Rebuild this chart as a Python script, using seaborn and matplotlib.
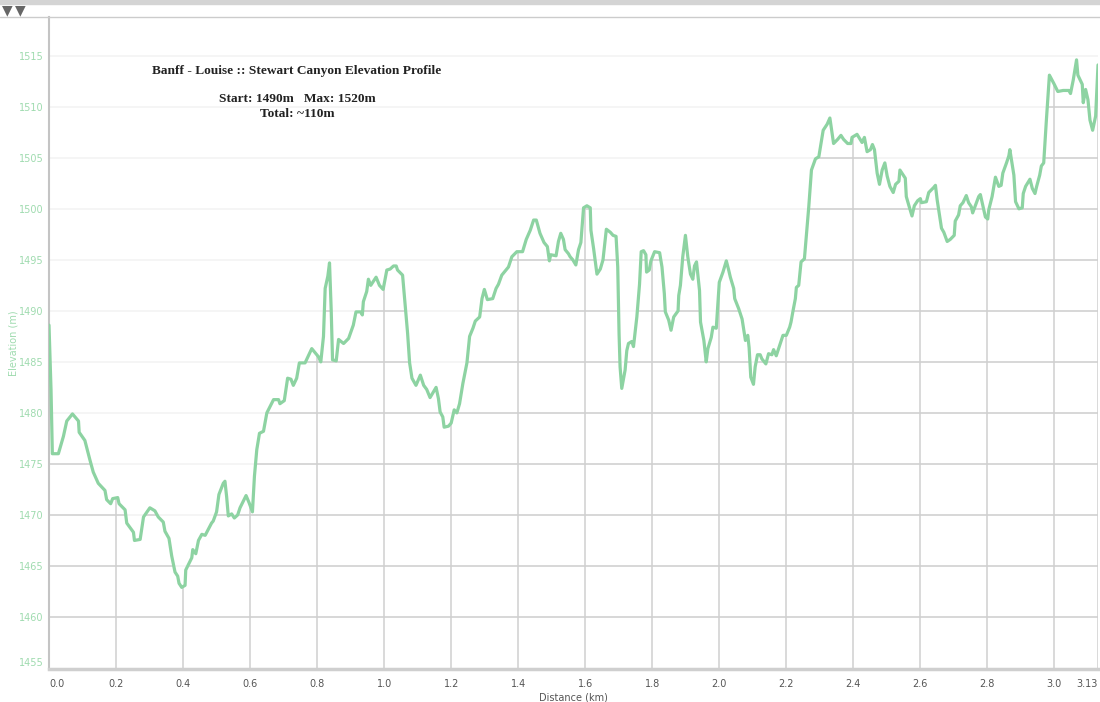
import matplotlib
matplotlib.use("Agg")
import matplotlib.pyplot as plt
import seaborn as sns
from matplotlib.lines import Line2D
from matplotlib.patches import Rectangle

# Stewart Canyon elevation profile
dist_km = [
    0.000, 0.006, 0.010, 0.028, 0.043, 0.053, 0.070, 0.088, 0.090, 0.107,
    0.122, 0.132, 0.147, 0.167, 0.172, 0.184, 0.190, 0.205, 0.209, 0.227,
    0.232, 0.252, 0.255, 0.272, 0.282, 0.301, 0.316, 0.326, 0.341, 0.346,
    0.358, 0.366, 0.376, 0.384, 0.388, 0.396, 0.406, 0.408, 0.426, 0.429,
    0.438, 0.446, 0.456, 0.466, 0.485, 0.490, 0.500, 0.507, 0.520, 0.525,
    0.530, 0.535, 0.545, 0.553, 0.563, 0.570, 0.588, 0.597, 0.607, 0.613,
    0.620, 0.628, 0.640, 0.650, 0.670, 0.685, 0.689, 0.702, 0.712, 0.722,
    0.729, 0.739, 0.747, 0.764, 0.784, 0.804, 0.811, 0.819, 0.824, 0.832,
    0.837, 0.842, 0.846, 0.857, 0.864, 0.879, 0.894, 0.908, 0.916, 0.930,
    0.935, 0.938, 0.948, 0.953, 0.960, 0.976, 0.986, 0.997, 1.008, 1.018,
    1.028, 1.036, 1.040, 1.055, 1.063, 1.070, 1.076, 1.083, 1.095, 1.108,
    1.118, 1.127, 1.137, 1.155, 1.162, 1.167, 1.175, 1.179, 1.192, 1.200,
    1.209, 1.217, 1.225, 1.235, 1.247, 1.255, 1.265, 1.272, 1.285, 1.292,
    1.299, 1.308, 1.324, 1.334, 1.341, 1.351, 1.361, 1.371, 1.381, 1.396,
    1.413, 1.424, 1.436, 1.446, 1.454, 1.465, 1.477, 1.487, 1.493, 1.497,
    1.513, 1.520, 1.527, 1.535, 1.540, 1.550, 1.555, 1.563, 1.572, 1.580,
    1.587, 1.595, 1.605, 1.615, 1.617, 1.625, 1.635, 1.645, 1.653, 1.663,
    1.675, 1.683, 1.692, 1.697, 1.701, 1.704, 1.709, 1.719, 1.724, 1.729,
    1.739, 1.744, 1.754, 1.762, 1.767, 1.774, 1.781, 1.783, 1.791, 1.796,
    1.807, 1.822, 1.829, 1.836, 1.839, 1.849, 1.856, 1.864, 1.877, 1.879,
    1.884, 1.891, 1.899, 1.906, 1.914, 1.921, 1.926, 1.932, 1.941, 1.944,
    1.954, 1.961, 1.966, 1.976, 1.981, 1.991, 2.000, 2.011, 2.021, 2.028,
    2.033, 2.043, 2.046, 2.058, 2.068, 2.075, 2.078, 2.085, 2.089, 2.094,
    2.102, 2.107, 2.114, 2.122, 2.127, 2.139, 2.147, 2.157, 2.162, 2.170,
    2.180, 2.190, 2.200, 2.210, 2.214, 2.220, 2.227, 2.230, 2.237, 2.244,
    2.254, 2.267, 2.275, 2.287, 2.297, 2.310, 2.322, 2.330, 2.341, 2.353,
    2.363, 2.371, 2.383, 2.393, 2.396, 2.411, 2.426, 2.433, 2.441, 2.451,
    2.457, 2.463, 2.471, 2.478, 2.486, 2.494, 2.501, 2.509, 2.519, 2.526,
    2.536, 2.539, 2.555, 2.558, 2.565, 2.575, 2.582, 2.592, 2.600, 2.603,
    2.618, 2.625, 2.640, 2.645, 2.650, 2.657, 2.663, 2.670, 2.680, 2.689,
    2.701, 2.704, 2.714, 2.719, 2.727, 2.737, 2.744, 2.752, 2.756, 2.764,
    2.774, 2.779, 2.787, 2.794, 2.801, 2.804, 2.814, 2.824, 2.834, 2.841,
    2.846, 2.857, 2.864, 2.867, 2.874, 2.879, 2.884, 2.894, 2.904, 2.907,
    2.914, 2.927, 2.934, 2.942, 2.947, 2.956, 2.961, 2.968, 2.976, 2.985,
    2.998, 3.010, 3.026, 3.043, 3.048, 3.056, 3.066, 3.070, 3.083, 3.086,
    3.093, 3.100, 3.106, 3.114, 3.123, 3.130,
]
elev_m = [
    1488.6, 1482.3, 1476.0, 1476.0, 1477.7, 1479.2, 1479.9, 1479.2, 1478.1, 1477.3,
    1475.4, 1474.2, 1473.1, 1472.4, 1471.5, 1471.1, 1471.6, 1471.7, 1471.1, 1470.5,
    1469.2, 1468.3, 1467.5, 1467.6, 1469.8, 1470.7, 1470.4, 1469.8, 1469.3, 1468.4,
    1467.7, 1466.0, 1464.4, 1464.0, 1463.3, 1462.9, 1463.1, 1464.6, 1465.8, 1466.6,
    1466.2, 1467.5, 1468.1, 1468.0, 1469.2, 1469.4, 1470.3, 1472.0, 1473.1, 1473.3,
    1471.8, 1469.9, 1470.1, 1469.7, 1470.0, 1470.7, 1471.9, 1471.2, 1470.3, 1473.8,
    1476.4, 1478.0, 1478.2, 1480.0, 1481.3, 1481.3, 1480.9, 1481.2, 1483.4, 1483.3,
    1482.7, 1483.4, 1484.9, 1484.9, 1486.3, 1485.5, 1485.0, 1487.5, 1492.2, 1493.4,
    1494.7, 1490.1, 1485.2, 1485.1, 1487.2, 1486.8, 1487.3, 1488.6, 1489.9, 1489.9,
    1489.6, 1490.9, 1491.9, 1493.1, 1492.5, 1493.3, 1492.5, 1492.1, 1494.0, 1494.1,
    1494.4, 1494.4, 1494.0, 1493.5, 1490.4, 1487.8, 1484.9, 1483.4, 1482.7, 1483.7,
    1482.7, 1482.3, 1481.5, 1482.5, 1481.4, 1480.1, 1479.6, 1478.6, 1478.7, 1479.0,
    1480.3, 1480.0, 1480.9, 1482.9, 1484.9, 1487.5, 1488.3, 1489.0, 1489.4, 1491.2,
    1492.1, 1491.1, 1491.2, 1492.2, 1492.6, 1493.5, 1493.9, 1494.3, 1495.3, 1495.8,
    1495.8, 1497.0, 1497.9, 1498.9, 1498.9, 1497.6, 1496.7, 1496.3, 1494.9, 1495.5,
    1495.4, 1496.8, 1497.6, 1497.0, 1496.0, 1495.6, 1495.3, 1495.0, 1494.5, 1496.0,
    1496.7, 1500.1, 1500.3, 1500.1, 1497.9, 1496.1, 1493.6, 1494.1, 1495.0, 1498.0,
    1497.7, 1497.4, 1497.3, 1494.3, 1487.7, 1484.5, 1482.4, 1484.2, 1486.1, 1486.8,
    1487.0, 1486.5, 1489.4, 1492.6, 1495.8, 1495.9, 1495.5, 1493.8, 1494.0, 1494.9,
    1495.8, 1495.7, 1494.3, 1491.7, 1489.9, 1489.1, 1488.1, 1489.4, 1490.0, 1491.5,
    1492.5, 1495.3, 1497.4, 1495.3, 1493.6, 1493.1, 1494.4, 1494.8, 1492.0, 1488.9,
    1487.1, 1485.0, 1486.3, 1487.4, 1488.4, 1488.3, 1492.8, 1493.8, 1494.9, 1494.0,
    1493.3, 1492.2, 1491.2, 1490.2, 1489.2, 1487.7, 1487.1, 1487.6, 1486.4, 1483.5,
    1482.8, 1484.5, 1485.7, 1485.7, 1485.3, 1484.8, 1485.8, 1485.7, 1486.2, 1485.6,
    1486.6, 1487.6, 1487.6, 1488.4, 1488.9, 1490.0, 1491.2, 1492.3, 1492.5, 1494.8,
    1495.1, 1500.2, 1503.8, 1504.9, 1505.1, 1507.7, 1508.3, 1508.9, 1506.4, 1506.8,
    1507.2, 1506.8, 1506.4, 1506.4, 1507.0, 1507.3, 1506.5, 1507.0, 1505.6, 1505.8,
    1506.3, 1505.8, 1503.5, 1502.4, 1503.8, 1504.5, 1503.2, 1502.2, 1501.6, 1502.4,
    1502.7, 1503.8, 1503.0, 1501.2, 1500.4, 1499.3, 1500.3, 1500.8, 1501.0, 1500.6,
    1500.7, 1501.6, 1502.1, 1502.3, 1500.9, 1499.4, 1498.1, 1497.7, 1496.8, 1497.0,
    1497.4, 1498.8, 1499.4, 1500.3, 1500.6, 1501.3, 1500.6, 1500.2, 1499.6, 1500.3,
    1501.2, 1501.4, 1500.2, 1499.2, 1499.0, 1499.9, 1501.2, 1503.1, 1502.2, 1502.3,
    1503.5, 1504.5, 1505.2, 1505.8, 1504.3, 1503.3, 1500.7, 1500.0, 1500.1, 1501.5,
    1502.2, 1502.9, 1502.0, 1501.5, 1502.2, 1503.3, 1504.2, 1504.5, 1508.7, 1513.1,
    1512.3, 1511.5, 1511.6, 1511.6, 1511.3, 1512.6, 1514.6, 1513.1, 1512.2, 1510.4,
    1511.7, 1510.7, 1508.7, 1507.7, 1509.1, 1514.1,
]

x_ticks = [0.0, 0.2, 0.4, 0.6, 0.8, 1.0, 1.2, 1.4, 1.6, 1.8, 2.0, 2.2, 2.4, 2.6, 2.8, 3.0, 3.13]
x_labels = ["0.0", "0.2", "0.4", "0.6", "0.8", "1.0", "1.2", "1.4", "1.6", "1.8",
            "2.0", "2.2", "2.4", "2.6", "2.8", "3.0", "3.13"]
y_ticks = [1455, 1460, 1465, 1470, 1475, 1480, 1485, 1490, 1495, 1500, 1505, 1510, 1515]

title_lines = ["Banff - Louise :: Stewart Canyon Elevation Profile",
               "Start: 1490m   Max: 1520m",
               "Total: ~110m"]

line_color = "#8dd3a2"
label_green = "#9fdbaf"
grid_gray = "#d0d0d0"

sns.set_style("white")
plt.rcParams["font.family"] = ["DejaVu Sans"]

fig = plt.figure(figsize=(11, 7.02), dpi=100)
ax = fig.add_axes([49 / 1100, 33 / 702, (1098 - 49) / 1100, (685 - 33) / 702])

y_lo, y_hi = 1454.9, 1518.8
ax.set_xlim(0, 3.13)
ax.set_ylim(y_lo, y_hi)

sns.lineplot(x=dist_km, y=elev_m, ax=ax, color=line_color, linewidth=2.3,
             estimator=None, sort=False, zorder=5)

# area under the profile -> used as clip region for the darker grid
under = ax.fill_between(dist_km, elev_m, y_lo, facecolor="none", edgecolor="none", zorder=0)
clip = under.get_paths()[0]

for yv in y_ticks[1:]:
    ax.axhline(yv, color="#f2f2f2", lw=1.1, zorder=1)
    g = ax.axhline(yv, color=grid_gray, lw=1.1, zorder=2)
    g.set_clip_path(clip, ax.transData)
for xv in x_ticks[1:]:
    g = ax.axvline(xv, color=grid_gray, lw=1.1, zorder=2)
    g.set_clip_path(clip, ax.transData)

ax.set_xticks(x_ticks)
ax.set_xticklabels(x_labels)
ax.set_yticks(y_ticks)
ax.set_yticklabels([str(v) for v in y_ticks])
ax.tick_params(axis="x", length=4, width=1, color="#c8c8c8", labelsize=7,
               labelcolor="#555555", pad=3)
ax.tick_params(axis="y", length=0, labelsize=7, labelcolor=label_green, pad=4)
ax.get_xticklabels()[0].set_horizontalalignment("left")
ax.get_xticklabels()[-1].set_horizontalalignment("right")
ax.get_yticklabels()[0].set_verticalalignment("bottom")

ax.set_xlabel("Distance (km)", fontsize=7, color="#555555", labelpad=3)
ax.set_ylabel("Elevation (m)", fontsize=7, color=label_green, labelpad=0)

for side in ["top", "right"]:
    ax.spines[side].set_visible(False)
ax.spines["left"].set_color("#c4c4c4")
ax.spines["left"].set_linewidth(1.5)
ax.spines["bottom"].set_color("#cfcfcf")
ax.spines["bottom"].set_linewidth(2.5)

# header strip and toolbar
fig.add_artist(Rectangle((0, 698 / 702), 1, 4 / 702, transform=fig.transFigure,
                         color="#d4d4d4", zorder=0))
fig.add_artist(Line2D([0, 1], [685 / 702, 685 / 702], transform=fig.transFigure,
                      color="#cccccc", lw=1))
for tx in [7, 20]:
    fig.text(tx / 1100, 1 - 10 / 702, "\u25bc", ha="center", va="center",
             fontsize=10, color="#666666")

# title block
serif = dict(family=["Liberation Serif"], weight="bold", fontsize=9.6, color="#222222",
             ha="center", va="center")
fig.text(297 / 1100, 1 - 71 / 702, title_lines[0], **serif)
fig.text(297 / 1100, 1 - 99 / 702, title_lines[1], **serif)
fig.text(297 / 1100, 1 - 114 / 702, title_lines[2], **serif)

fig.savefig("out.png", dpi=100)
